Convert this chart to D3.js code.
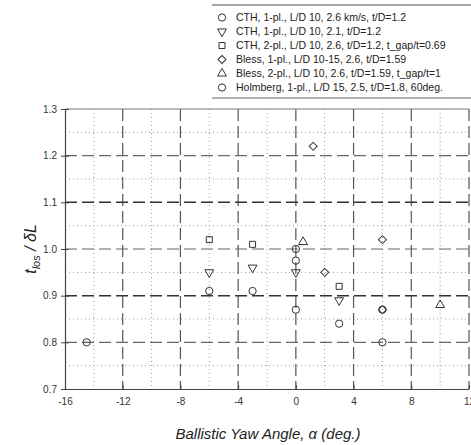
<!DOCTYPE html>
<html>
<head>
<meta charset="utf-8">
<script src="https://cdn.jsdelivr.net/npm/d3@7"></script>
<style>
  body { margin: 0; background: #fff; }
  svg { font-family: "Liberation Sans", Arial, sans-serif; }
</style>
</head>
<body>
<div id="chart"></div>
<script>
// Data
const xTicks = [-16, -12, -8, -4, 0, 4, 8, 12];
const yTicks = [0.7, 0.8, 0.9, 1.0, 1.1, 1.2, 1.3];
const xMinor = [-14, -10, -6, -2, 2, 6, 10];
const yMinor = [0.75, 0.85, 0.95, 1.05, 1.15, 1.25];

const seriesNames = [
  "CTH, 1-pl., L/D 10, 2.6 km/s, t/D=1.2",
  "CTH, 1-pl., L/D 10, 2.1, t/D=1.2",
  "CTH, 2-pl., L/D 10, 2.6, t/D=1.2, t_gap/t=0.69",
  "Bless, 1-pl., L/D 10-15, 2.6, t/D=1.59",
  "Bless, 2-pl., L/D 10, 2.6, t/D=1.59, t_gap/t=1",
  "Holmberg, 1-pl., L/D 15, 2.5, t/D=1.8, 60deg."
];
const seriesShapes = ["circle", "triDown", "square", "diamond", "triUp", "circle"];

const cth26Yaw = [0, 0];
const cth26Val = [1.0, 0.975];
const cth21Yaw = [-6, -3, 0, 3];
const cth21Val = [0.95, 0.96, 0.95, 0.89];
const cth2plYaw = [-6, -3, 3];
const cth2plVal = [1.02, 1.01, 0.92];
const bless1Yaw = [1.2, 2, 6, 6];
const bless1Val = [1.22, 0.95, 1.02, 0.87];
const bless2Yaw = [0.5, 10];
const bless2Val = [1.015, 0.88];
const holmYaw = [-14.5, -6, -3, 0, 3, 6, 6];
const holmVal = [0.80, 0.91, 0.91, 0.87, 0.84, 0.87, 0.80];

const seriesYaw = [cth26Yaw, cth21Yaw, cth2plYaw, bless1Yaw, bless2Yaw, holmYaw];
const seriesVal = [cth26Val, cth21Val, cth2plVal, bless1Val, bless2Val, holmVal];

//Create svg canvas
const W = 471, H = 445;
const margin = {top: 109, right: 2, bottom: 56, left: 65};
const width = W - margin.left - margin.right;
const height = H - margin.top - margin.bottom;

const svg = d3.select('#chart')
    .append('svg')
    .attr('width', W)
    .attr('height', H);

const g = svg.append('g')
    .attr('transform', `translate(${margin.left},${margin.top})`);

const x = d3.scaleLinear().domain([-16, 12]).range([0, width]);
const y = d3.scaleLinear().domain([0.7, 1.3]).range([height, 0]);

const ink = "#444";

// Minor dotted grid
g.selectAll("line.minx").data(xMinor).join("line")
    .attr("x1", d => x(d)).attr("x2", d => x(d))
    .attr("y1", 0).attr("y2", height)
    .attr("stroke", "#999").attr("stroke-width", 1)
    .attr("stroke-dasharray", "1,3");
g.selectAll("line.miny").data(yMinor).join("line")
    .attr("x1", 0).attr("x2", width)
    .attr("y1", d => y(d)).attr("y2", d => y(d))
    .attr("stroke", "#999").attr("stroke-width", 1)
    .attr("stroke-dasharray", "1,3");

// Major dashed grid
g.selectAll("line.majx").data(xTicks.slice(1)).join("line")
    .attr("x1", d => x(d)).attr("x2", d => x(d))
    .attr("y1", 0).attr("y2", height)
    .attr("stroke", "#555").attr("stroke-width", 1.2)
    .attr("stroke-dasharray", "12,5");
g.selectAll("line.majy").data(yTicks.slice(1, -1)).join("line")
    .attr("x1", 0).attr("x2", width)
    .attr("y1", d => y(d)).attr("y2", d => y(d))
    .attr("stroke", d => (d === 1.1 || d === 0.9) ? "#333" : "#666")
    .attr("stroke-width", d => (d === 1.1 || d === 0.9) ? 1.5 : 1.1)
    .attr("stroke-dasharray", "12,5");

// Top frame line
g.append("line")
    .attr("x1", 0).attr("x2", width).attr("y1", 0).attr("y2", 0)
    .attr("stroke", "#777").attr("stroke-width", 1);

// Axes
const hyphen = d => String(d).replace("\u2212", "-");
const xAxis = g.append("g")
    .attr("transform", `translate(0,${height})`)
    .call(d3.axisBottom(x).tickValues(xTicks).tickFormat(d => d < 0 ? "-" + Math.abs(d) : String(d))
        .tickSizeInner(-4).tickSizeOuter(0).tickPadding(9));
const yAxis = g.append("g")
    .call(d3.axisLeft(y).tickValues(yTicks).tickFormat(d3.format(".1f")).tickSizeInner(-5).tickSizeOuter(0).tickPadding(8));

[xAxis, yAxis].forEach(a => {
    a.select(".domain").attr("stroke", ink).attr("stroke-width", 1.2);
    a.selectAll(".tick line").attr("stroke", ink);
    a.selectAll(".tick text").attr("fill", "#333").attr("font-size", 10)
        .attr("font-family", "Liberation Sans, Arial, sans-serif");
});
yAxis.selectAll(".tick line").attr("x1", -4).attr("x2", 4);

// Marker shapes
function markerPath(shape) {
    if (shape === "circle") return d3.symbol(d3.symbolCircle, 42)();
    if (shape === "square") return d3.symbol(d3.symbolSquare, 36)();
    if (shape === "diamond") return d3.symbol(d3.symbolSquare, 32)();
    return d3.symbol(d3.symbolTriangle, 34)();
}
function markerRot(shape) {
    if (shape === "triDown") return 180;
    if (shape === "diamond") return 45;
    return 0;
}

// Data markers
seriesYaw.forEach((yaws, i) => {
    const pts = yaws.map((v, j) => ({x: v, y: seriesVal[i][j]}));
    const shape = seriesShapes[i];
    g.selectAll(null).data(pts).join("path")
        .attr("d", markerPath(shape))
        .attr("transform", d => `translate(${x(d.x)},${y(d.y)}) rotate(${markerRot(shape)})`)
        .attr("fill", "none")
        .attr("stroke", "#333")
        .attr("stroke-width", 1);
});

// Legend
const legend = svg.append("g").attr("transform", "translate(212,5)");
legend.append("rect")
    .attr("width", 259).attr("height", 92)
    .attr("fill", "#fff").attr("stroke", "none");
legend.append("line").attr("x1", 0).attr("x2", 259).attr("y1", 0).attr("y2", 0)
    .attr("stroke", "#888").attr("stroke-width", 1.5);
legend.append("line").attr("x1", 0).attr("x2", 259).attr("y1", 93).attr("y2", 93)
    .attr("stroke", "#666").attr("stroke-width", 1);

const rows = legend.selectAll("g.row").data(seriesNames).join("g")
    .attr("class", "row")
    .attr("transform", (d, i) => `translate(0,${12.5 + i * 14})`);
rows.append("path")
    .attr("d", (d, i) => markerPath(seriesShapes[i]))
    .attr("transform", (d, i) => `translate(10,0) rotate(${markerRot(seriesShapes[i])})`)
    .attr("fill", "none").attr("stroke", "#333").attr("stroke-width", 1);
rows.append("text")
    .attr("x", 24).attr("dy", "0.35em")
    .attr("font-size", 10.5).attr("fill", "#222")
    .text(d => d);

// Axis titles
svg.append("text")
    .attr("x", 268).attr("y", 439)
    .attr("text-anchor", "middle")
    .attr("font-size", 15).attr("font-style", "italic").attr("fill", "#222")
    .text("Ballistic Yaw Angle,  α (deg.)");

const yTitle = svg.append("text")
    .attr("transform", "translate(36,249) rotate(-90)")
    .attr("text-anchor", "middle")
    .attr("font-size", 16).attr("font-style", "italic").attr("fill", "#222");
yTitle.append("tspan").text("t");
yTitle.append("tspan").attr("font-size", 11).attr("dy", 4).text("los");
yTitle.append("tspan").attr("dy", -4).text(" / δL");
</script>
</body>
</html>
